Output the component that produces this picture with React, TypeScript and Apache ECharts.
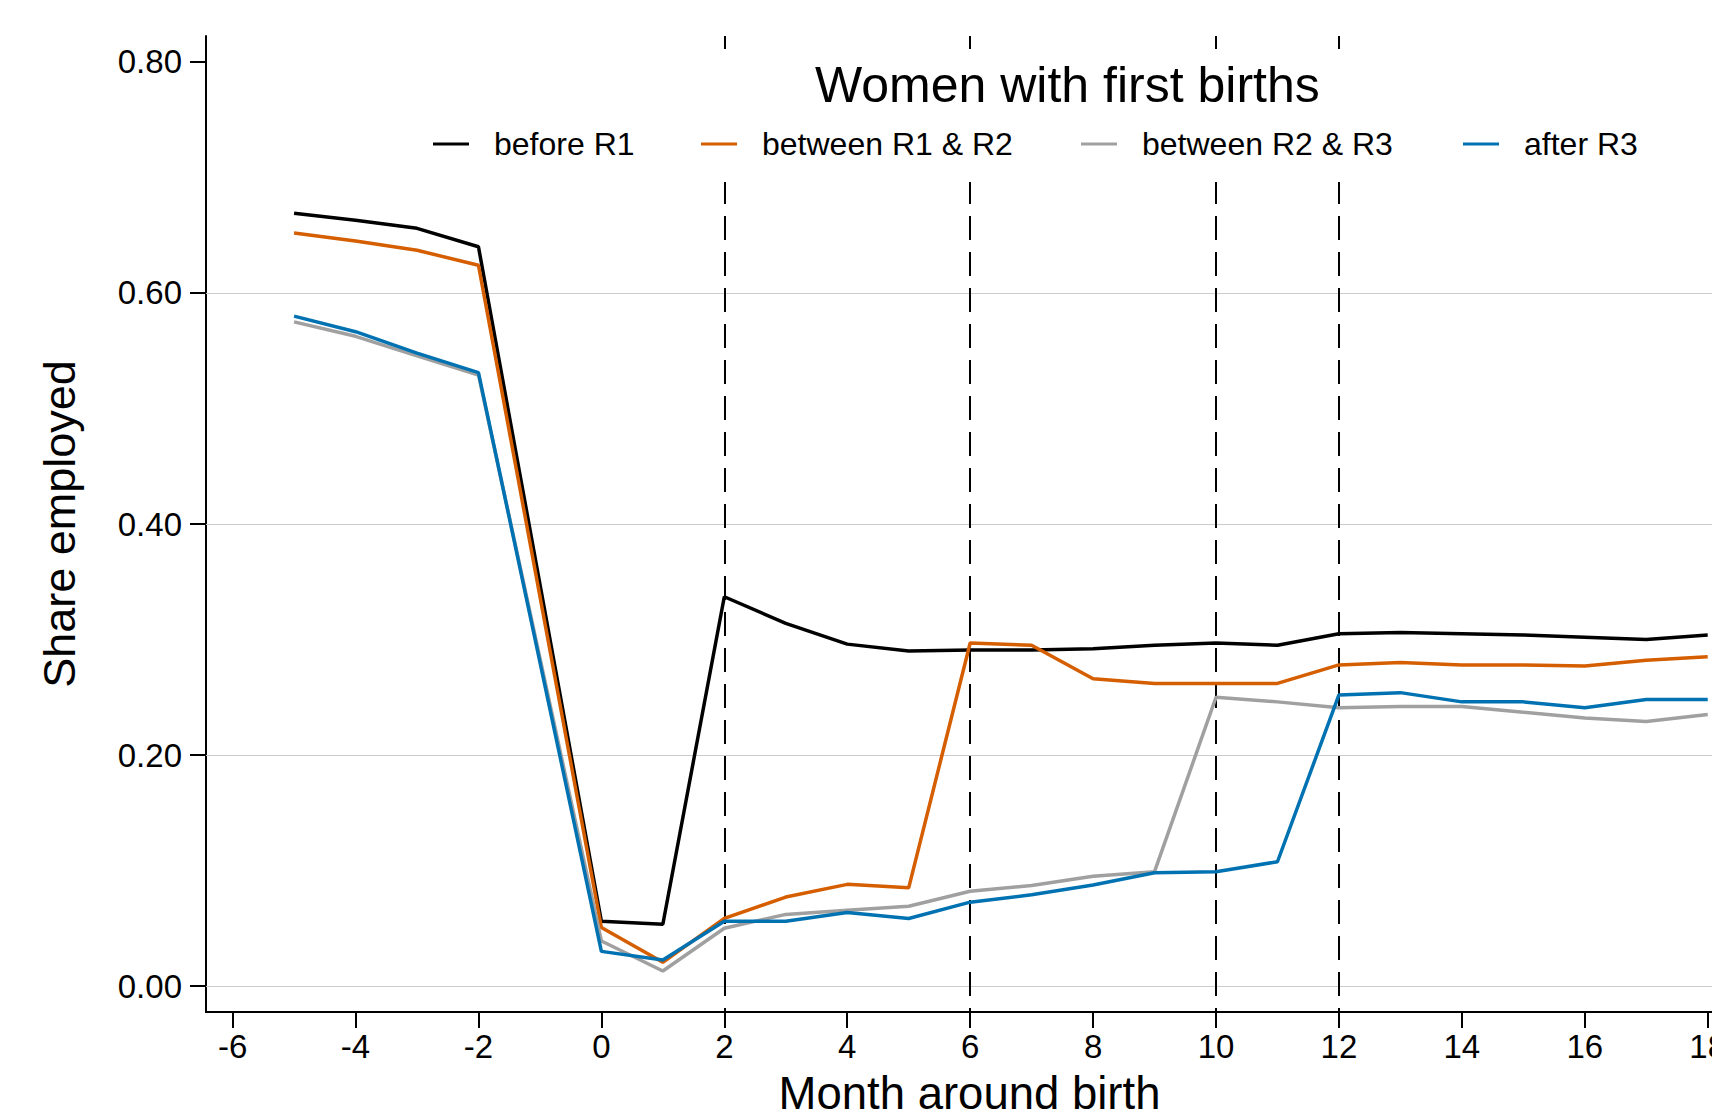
import React, { useEffect, useRef } from "react";
import * as echarts from "echarts";

const months = [-5, -4, -3, -2, 0, 1, 2, 3, 4, 5, 6, 7, 8, 9, 10, 11, 12, 13, 14, 15, 16, 17, 18];

const beforeR1 = [0.669, 0.663, 0.656, 0.640, 0.056, 0.0535, 0.337, 0.314, 0.296, 0.290, 0.291, 0.291, 0.292, 0.295, 0.297, 0.295, 0.305, 0.306, 0.305, 0.304, 0.302, 0.300, 0.304];
const betweenR1R2 = [0.652, 0.645, 0.637, 0.624, 0.0507, 0.0205, 0.0585, 0.077, 0.088, 0.085, 0.297, 0.295, 0.266, 0.262, 0.262, 0.262, 0.278, 0.280, 0.278, 0.278, 0.277, 0.282, 0.285];
const betweenR2R3 = [0.575, 0.5625, 0.5455, 0.529, 0.039, 0.013, 0.050, 0.062, 0.0656, 0.069, 0.082, 0.087, 0.095, 0.099, 0.250, 0.246, 0.241, 0.242, 0.242, 0.237, 0.232, 0.229, 0.235];
const afterR3 = [0.580, 0.5665, 0.548, 0.531, 0.030, 0.0225, 0.056, 0.056, 0.0636, 0.0585, 0.0726, 0.079, 0.0875, 0.098, 0.099, 0.1076, 0.252, 0.254, 0.246, 0.246, 0.241, 0.248, 0.248];

const seriesNames = ["before R1", "between R1 & R2", "between R2 & R3", "after R3"];
const seriesColors = ["#000000", "#d55e00", "#a0a0a0", "#0072b2"];
const seriesValues = [beforeR1, betweenR1R2, betweenR2R3, afterR3];

const xTicks = [-6, -4, -2, 0, 2, 4, 6, 8, 10, 12, 14, 16, 18];
const yTicks = [0, 0.2, 0.4, 0.6, 0.8];
const gridValues = [0, 0.2, 0.4, 0.6];
const roundMonths = [2, 6, 10, 12];

const legendLefts = [433, 701, 1081, 1463];

const FONT = "'Liberation Sans', Arial, Helvetica, sans-serif";

export default function App() {
  const ref = useRef<HTMLDivElement>(null);

  useEffect(() => {
    if (!ref.current) return;
    const chart = echarts.init(ref.current, null, { renderer: "svg" });

    const lineSeries = seriesNames.map((name, i) => ({
      name,
      type: "line",
      data: months.map((m, j) => [m, seriesValues[i][j]]),
      showSymbol: false,
      symbol: "none",
      lineStyle: { color: seriesColors[i], width: 3.5 },
      itemStyle: { color: seriesColors[i] },
      z: 2,
      emphasis: { disabled: true },
    }));

    const helper = {
      name: "helper",
      type: "line",
      data: [],
      silent: true,
      z: 1,
      markLine: {
        silent: true,
        z: 1,
        symbol: "none",
        animation: false,
        label: { show: false },
        emphasis: { disabled: true },
        data: [
          ...gridValues.map((v) => ({
            yAxis: v,
            lineStyle: { color: "#cccccc", width: 1, type: "solid" },
          })),
          ...roundMonths.map((v) => ({
            xAxis: v,
            lineStyle: { color: "#000000", width: 2, type: [24, 12], dashOffset: 20 },
          })),
        ],
      },
    };

    const legends = seriesNames.map((name, i) => ({
      data: [name],
      left: legendLefts[i],
      top: 128,
      z: 8,
      orient: "horizontal",
      padding: 0,
      itemGap: 0,
      itemWidth: 36,
      itemHeight: 3,
      icon: "rect",
      selectedMode: false,
      textStyle: {
        fontSize: 32,
        fontFamily: FONT,
        color: "#000",
        padding: [0, 0, 8, 20],
      },
    }));

    chart.setOption({
      animation: false,
      backgroundColor: "#ffffff",
      textStyle: { fontFamily: FONT },
      title: {
        text: "Women with first births",
        left: 815,
        top: 60,
        padding: 0,
        z: 8,
        textStyle: { fontSize: 50, fontWeight: "normal", color: "#000", fontFamily: FONT },
      },
      legend: legends,
      grid: { left: 206, right: 0, top: 36, bottom: 100, outerBoundsMode: "none", containLabel: false },
      graphic: [
        {
          type: "rect",
          z: 3,
          silent: true,
          shape: { x: 420, y: 49, width: 1292, height: 133 },
          style: { fill: "#ffffff" },
        },
      ],
      xAxis: {
        type: "value",
        min: -6.433,
        max: 18.07,
        name: "Month around birth",
        nameLocation: "middle",
        nameGap: 66,
        nameTextStyle: {
          fontSize: 45.5,
          lineHeight: 30,
          color: "#000",
          fontFamily: FONT,
          padding: [0, 0, 0, 21],
        },
        axisLine: { show: true, onZero: false, lineStyle: { color: "#000", width: 2 } },
        axisTick: { show: true, length: 16, lineStyle: { color: "#000", width: 2 }, customValues: xTicks },
        axisLabel: { fontSize: 33, color: "#000", margin: 18, fontFamily: FONT, customValues: xTicks },
        splitLine: { show: false },
      },
      yAxis: {
        type: "value",
        min: -0.0225,
        max: 0.8225,
        name: "Share employed",
        nameLocation: "middle",
        nameGap: 124,
        nameTextStyle: { fontSize: 45, color: "#000", fontFamily: FONT },
        axisLine: { show: true, onZero: false, lineStyle: { color: "#000", width: 2 } },
        axisTick: { show: true, length: 16, lineStyle: { color: "#000", width: 2 }, customValues: yTicks },
        axisLabel: {
          fontSize: 33,
          color: "#000",
          margin: 24,
          fontFamily: FONT,
          customValues: yTicks,
          formatter: (v: number) => v.toFixed(2),
        },
        splitLine: { show: false },
      },
      series: [helper, ...lineSeries],
    });

    return () => chart.dispose();
  }, []);

  return (
    <div
      ref={ref}
      style={{ position: "absolute", left: 0, top: 0, width: 1712, height: 1112, background: "#fff" }}
    />
  );
}
